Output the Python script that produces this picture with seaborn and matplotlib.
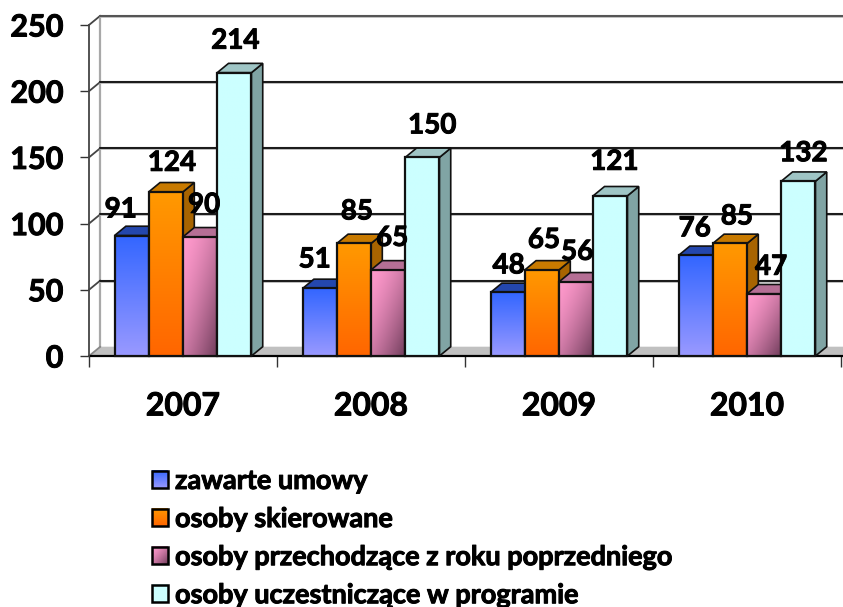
import numpy as np
import pandas as pd
import matplotlib
matplotlib.use("Agg")
import matplotlib.pyplot as plt
import matplotlib.patheffects as pe
import seaborn as sns
from matplotlib.image import BboxImage
from matplotlib.legend_handler import HandlerBase
from matplotlib.patches import Patch, Rectangle
from matplotlib.transforms import Bbox, TransformedBbox
from matplotlib.colors import to_rgb

years = ["2007", "2008", "2009", "2010"]
series_names = ["zawarte umowy", "osoby skierowane",
                "osoby przechodzące z roku poprzedniego",
                "osoby uczestniczące w programie"]
umowy = [91, 51, 48, 76]
skierowane = [124, 85, 65, 85]
przechodzace = [90, 65, 56, 47]
uczestniczace = [214, 150, 121, 132]
y_ticks = [0, 50, 100, 150, 200, 250]

# label offsets from the bar's top centre, in pixels (per series, per year)
label_offsets = [
    [(-11, 26), (-5, 29), (1, 27), (-1, 27)],
    [(6, 29), (3, 32), (2, 30), (7, 27)],
    [(4, 32), (4, 32), (1, 30), (7, 27)],
    [(1, 32), (10, 32), (4, 34), (5, 28)],
]

# face styles: (start, end, direction), top colour, side colour
front_styles = [("#3366ff", "#9999ff", "v"), ("#ff9900", "#ff6600", "v"),
                ("#ff99cc", "#6e3c5a", "d"), ("#ccffff", "#ccffff", "v")]
top_colors = ["#2447ad", "#c87a00", "#b56f95", "#9fc5c5"]
side_colors = ["#1f3c90", "#a86400", "#8a5070", "#80a4a4"]

sns.set_style("white")
plt.rcParams["font.family"] = ["Lato", "DejaVu Sans"]
plt.rcParams["font.weight"] = "bold"
plt.rcParams["text.color"] = "black"
plt.rcParams["xtick.labelcolor"] = "black"
plt.rcParams["ytick.labelcolor"] = "black"

HEAVY = [pe.withStroke(linewidth=0.7, foreground="black")]

W, H = 843, 607
fig = plt.figure(figsize=(W / 100, H / 100), dpi=100, facecolor="white")
ax = fig.add_axes([89 / W, (H - 356) / H, 752 / W, 331 / H])

all_values = [umowy, skierowane, przechodzace, uczestniczace]
df = pd.DataFrame({
    "rok": np.tile(years, len(series_names)),
    "seria": np.repeat(series_names, len(years)),
    "wartosc": np.concatenate(all_values),
})
sns.barplot(data=df, x="rok", y="wartosc", hue="seria", hue_order=series_names,
            order=years, width=0.728, gap=0, dodge=True, legend=False, ax=ax)
ax.set_xlim(-0.5, 3.5)
ax.set_ylim(0, 250)
ax.set_xlabel("")
ax.set_ylabel("")

# depth of the pseudo 3D look, in data units
dxd = 11.3 / (752 / 4)
dyd = 9.3 / (331 / 250)

LINE = "#1c1c1c"


def gradient(start, end, direction, n=64):
    c0, c1 = np.array(to_rgb(start)), np.array(to_rgb(end))
    yy, xx = np.mgrid[0:1:complex(0, n), 0:1:complex(0, n)]
    if direction == "v":
        t = yy
    else:
        t = np.clip((xx + yy) / 2, 0, 1) ** 1.5
    return c0 + (c1 - c0) * t[..., None]


# back wall, floor and left wall
x0, x1 = ax.get_xlim()
ax.fill([x0, x1 + 0.1, x1 + 0.1 + dxd, x0 + dxd], [0, 0, dyd, dyd],
        color="#c0c0c0", zorder=1, clip_on=False, lw=0)
ax.plot([x0, x1 + 0.1], [0, 0], color="black", lw=1.6, zorder=2.5, clip_on=False)
ax.plot([x0 + dxd, x0 + dxd], [dyd, 250 + dyd], color="#a8a8a8", lw=1.6,
        zorder=1.2, clip_on=False)
for t in y_ticks:
    ax.plot([x0, x0 + dxd], [t, t + dyd], color="#444444" if t else "#888888",
            lw=1.3, zorder=1.3, clip_on=False)
    if t:
        ax.plot([x0 + dxd, x1 + 0.1], [t + dyd - 0.8] * 2, color="#bbbbbb", lw=1.2,
                zorder=1.35, clip_on=False)
        ax.plot([x0 + dxd, x1 + 0.1], [t + dyd] * 2,
                color="#555555" if t == 250 else LINE, lw=1.5, zorder=1.4,
                clip_on=False)
ax.grid(False)

# bars: faces on top of the patches seaborn drew
for s, cont in enumerate(ax.containers):
    for g, bar in enumerate(cont.patches):
        x, w, v = bar.get_x(), bar.get_width(), bar.get_height()
        z = 3 + (g * 4 + s) * 0.1
        ax.fill([x + w, x + w + dxd, x + w + dxd, x + w], [0, dyd, v + dyd, v],
                facecolor=side_colors[s], edgecolor="#111111", lw=1.2, zorder=z,
                clip_on=False)
        ax.fill([x, x + dxd, x + w + dxd, x + w], [v, v + dyd, v + dyd, v],
                facecolor=top_colors[s], edgecolor="#111111", lw=1.2, zorder=z,
                clip_on=False)
        bar.set_facecolor("none")
        bar.set_edgecolor("#111111")
        bar.set_linewidth(1.6)
        bar.set_zorder(z + 0.02)
        bar.set_clip_on(False)
        start, end, direction = front_styles[s]
        ax.imshow(gradient(start, end, direction), extent=[x, x + w, 0, v], origin="upper",
                  aspect="auto", zorder=z + 0.01, interpolation="bilinear")
        dx, dy = label_offsets[s][g]
        ax.annotate(str(int(v)), xy=(x + w / 2, v), xytext=(dx, dy),
                    textcoords="offset pixels", ha="center", va="center",
                    fontsize=20, fontweight="bold", color="black", zorder=20,
                    annotation_clip=False, path_effects=HEAVY)
ax.set_xlim(-0.5, 3.5)
ax.set_ylim(0, 250)

# axes
for name in ("top", "right"):
    ax.spines[name].set_visible(False)
ax.spines["bottom"].set_visible(False)
ax.spines["left"].set_color("#444444")
ax.spines["left"].set_linewidth(1.3)
ax.set_yticks(y_ticks)
ax.set_xticks([-0.5, 0.5, 1.5, 2.5, 3.5], minor=False)
ax.set_xticklabels([])
ax.set_xticks([0, 1, 2, 3], labels=years, minor=True)
ax.tick_params(axis="x", which="major", length=8, width=1, color="#333333", bottom=True)
ax.tick_params(axis="x", which="minor", length=0, pad=25.5, labelsize=23, bottom=False)
ax.tick_params(axis="y", length=6.5, width=1, color="#333333", left=True, pad=12, labelsize=22)
for lab in ax.get_xticklabels(minor=True) + ax.get_yticklabels():
    lab.set_fontweight("bold")
    lab.set_color("black")
    lab.set_path_effects(HEAVY)


class GradientHandler(HandlerBase):
    def create_artists(self, legend, orig_handle, xdescent, ydescent, width, height,
                       fontsize, trans):
        start, end, direction = orig_handle.gradient
        box = Bbox([[-xdescent, -ydescent], [-xdescent + width, -ydescent + height]])
        img = BboxImage(TransformedBbox(box, trans), interpolation="bilinear")
        img.set_data(gradient(start, end, direction))
        frame = Rectangle((-xdescent, -ydescent), width, height, facecolor="none",
                          edgecolor="black", lw=1.8, transform=trans)
        return [img, frame]


handles = []
for name, style in zip(series_names, front_styles):
    h = Patch(label=name)
    h.gradient = style
    handles.append(h)

legend = fig.legend(handles=handles, handler_map={Patch: GradientHandler()},
                    loc="upper left", bbox_to_anchor=(152 / W, 1 - 469 / H),
                    bbox_transform=fig.transFigure, frameon=False, ncol=1,
                    prop={"size": 19.5, "weight": "bold"}, handlelength=0.59,
                    handleheight=0.59, handletextpad=0.26, labelspacing=0.52,
                    borderpad=0, borderaxespad=0)
for text in legend.get_texts():
    text.set_color("black")
    text.set_path_effects(HEAVY)

fig.savefig("out.png", dpi=100, facecolor="white")
